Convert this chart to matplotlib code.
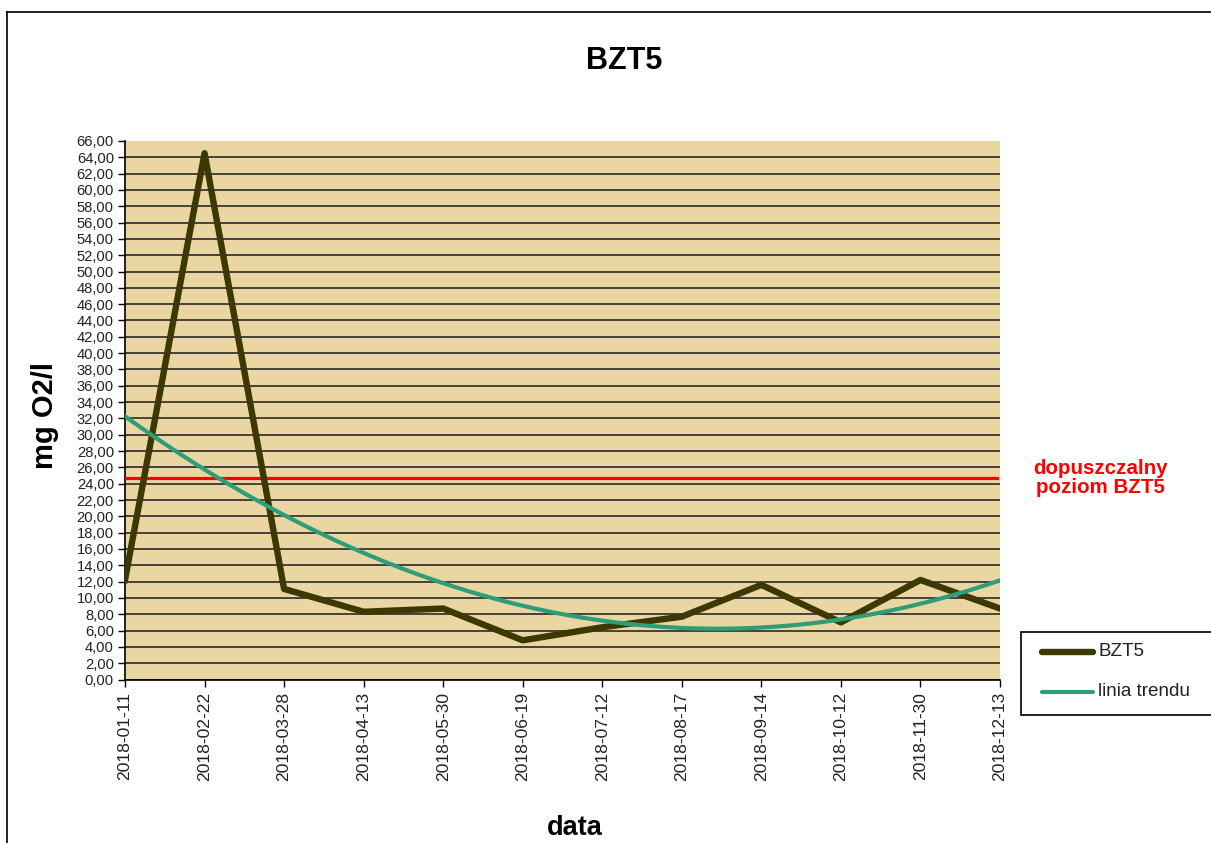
import matplotlib
matplotlib.use('Agg')
import matplotlib.pyplot as plt
from matplotlib.lines import Line2D
from matplotlib.patches import Rectangle
from matplotlib.ticker import FuncFormatter
import numpy as np

plt.rcParams['font.family'] = ['Liberation Sans', 'DejaVu Sans']

# data
dates = ['2018-01-11', '2018-02-22', '2018-03-28', '2018-04-13', '2018-05-30', '2018-06-19',
         '2018-07-12', '2018-08-17', '2018-09-14', '2018-10-12', '2018-11-30', '2018-12-13']
bzt5 = [12.2, 64.5, 11.1, 8.3, 8.7, 4.8, 6.4, 7.7, 11.6, 7.0, 12.2, 8.7]
limit = 24.7

x = np.arange(len(dates))
# polynomial (order 2) trend line, like the spreadsheet one
coef = np.polyfit(x, bzt5, 2)
xs = np.linspace(0, len(dates) - 1, 200)
trend = np.polyval(coef, xs)

W, H = 1211, 843
fig = plt.figure(figsize=(W / 100, H / 100), dpi=100)
ax = fig.add_axes([125 / W, 1 - 679.5 / H, 875 / W, 538.5 / H])
ax.set_facecolor('#EAD6A2')

dark = '#3C3800'
green = '#2E9E78'
ax.plot(x, bzt5, color=dark, linewidth=4.6, solid_joinstyle='round', zorder=4)
ax.plot(xs, trend, color=green, linewidth=3, zorder=5)
ax.plot([0, len(dates) - 1.04], [limit, limit], color='#FF0000', linewidth=2.3, zorder=3)

ax.set_xlim(0, len(dates) - 1)
ax.set_ylim(0, 66)
ax.set_yticks(np.arange(0, 67, 2))
ax.yaxis.set_major_formatter(FuncFormatter(lambda v, p: f'{v:.2f}'.replace('.', ',')))
ax.set_xticks(x)
ax.set_xticklabels(dates, rotation=90)
ax.tick_params(axis='both', length=5, width=1, direction='out', colors='black')
ax.tick_params(axis='y', labelsize=10.6, pad=3)
ax.tick_params(axis='x', labelsize=12.6, pad=4)
for t in ax.get_xticklabels() + ax.get_yticklabels():
    t.set_color('#222222')

ax.grid(axis='y', color='#2a2a2a', linewidth=1.2)
ax.set_axisbelow(True)
ax.get_ygridlines()[-1].set_visible(False)
for s in ['top', 'right']:
    ax.spines[s].set_visible(False)
for s in ['left', 'bottom']:
    ax.spines[s].set_linewidth(1.2)

fig.text(45 / W, 1 - 416 / H, 'mg O2/l', fontsize=21, fontweight='bold', rotation=90,
         ha='center', va='center')
fig.text(575 / W, 1 - 828 / H, 'data', fontsize=19.5, fontweight='bold', ha='center', va='center')
fig.text(624 / W, 1 - 61 / H, 'BZT5', fontsize=22, fontweight='bold', ha='center', va='center')
fig.text(1100 / W, 1 - 478 / H, 'dopuszczalny\npoziom BZT5', color='#FF0000', fontsize=14.8,
         fontweight='bold', ha='center', va='center', linespacing=1.0)

# legend box (runs off the right edge like the original)
fig.add_artist(Rectangle((1021 / W, 1 - 715 / H), 200 / W, 83 / H, transform=fig.transFigure,
                         facecolor='white', edgecolor='black', linewidth=1.2))
legend_items = [('BZT5', dark, 4.6, 652), ('linia trendu', green, 3, 692)]
for label, col, lw, yy in legend_items:
    fig.add_artist(Line2D([1042 / W, 1093 / W], [1 - yy / H, 1 - yy / H], color=col,
                          linewidth=lw, solid_capstyle='round'))
    fig.text(1098 / W, 1 - yy / H, label, fontsize=13.6, ha='left', va='center', color='#222222')

# outer frame of the chart object
fig.add_artist(Line2D([7 / W, 7 / W], [0, 1 - 12 / H], color='black', linewidth=1.2))
fig.add_artist(Line2D([7 / W, 1], [1 - 12 / H, 1 - 12 / H], color='black', linewidth=1.2))

fig.savefig('out.png', dpi=100)
